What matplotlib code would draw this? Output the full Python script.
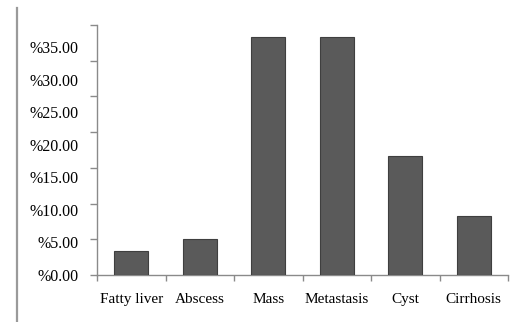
import matplotlib
matplotlib.use("Agg")
import matplotlib.pyplot as plt
from matplotlib.lines import Line2D
import numpy as np

categories = ["Fatty liver", "Abscess", "Mass", "Metastasis", "Cyst", "Cirrhosis"]
percent = [3.33, 5.00, 33.33, 33.33, 16.67, 8.33]
ytick_values = [0, 5, 10, 15, 20, 25, 30, 35]
ytick_labels = ["%0.00", "%5.00", "%10.00", "%15.00", "%20.00", "%25.00", "%30.00", "%35.00"]

plt.rcParams["font.family"] = ["Liberation Serif", "DejaVu Serif"]
axis_col = "#8a8a8a"

fig = plt.figure(figsize=(5.16, 3.22), dpi=100)
ax = fig.add_axes([97 / 516, 1 - 275 / 322, 411 / 516, 250 / 322])

x = np.arange(len(categories))
ax.bar(x, percent, width=0.49, color="#5a5a5a", edgecolor="#3f3f3f", linewidth=0.8, zorder=3)

ax.set_xlim(-0.5, len(categories) - 0.5)
ax.set_ylim(0, 35)

# tick marks at the category boundaries, labels at the centres
ax.set_xticks(np.arange(len(categories) + 1) - 0.5)
ax.set_xticklabels([])
ax.set_xticks(x, categories, minor=True)
ax.tick_params(axis="x", which="major", direction="out", length=4, color=axis_col, width=1)
ax.tick_params(axis="x", which="minor", length=0, pad=13, labelsize=11)

# the labels in the original sit a bit lower than their tick marks
ax.yaxis.remove_overlapping_locs = False
ax.set_yticks(ytick_values)
ax.set_yticklabels([])
label_scale = (275 - 47) / 250
ax.set_yticks([v * label_scale for v in ytick_values], ytick_labels, minor=True)
ax.tick_params(axis="y", which="major", direction="out", length=5, color=axis_col, width=1)
ax.tick_params(axis="y", which="minor", length=0, pad=13, labelsize=11.5)

for s in ["top", "right"]:
    ax.spines[s].set_visible(False)
for s in ["left", "bottom"]:
    ax.spines[s].set_color(axis_col)
    ax.spines[s].set_linewidth(1)

# page border line at the left
fig.add_artist(Line2D([17 / 516, 17 / 516], [0, 1 - 8 / 322], transform=fig.transFigure,
                      color="#9a9a9a", linewidth=1.6))

fig.savefig("out.png", dpi=100)
